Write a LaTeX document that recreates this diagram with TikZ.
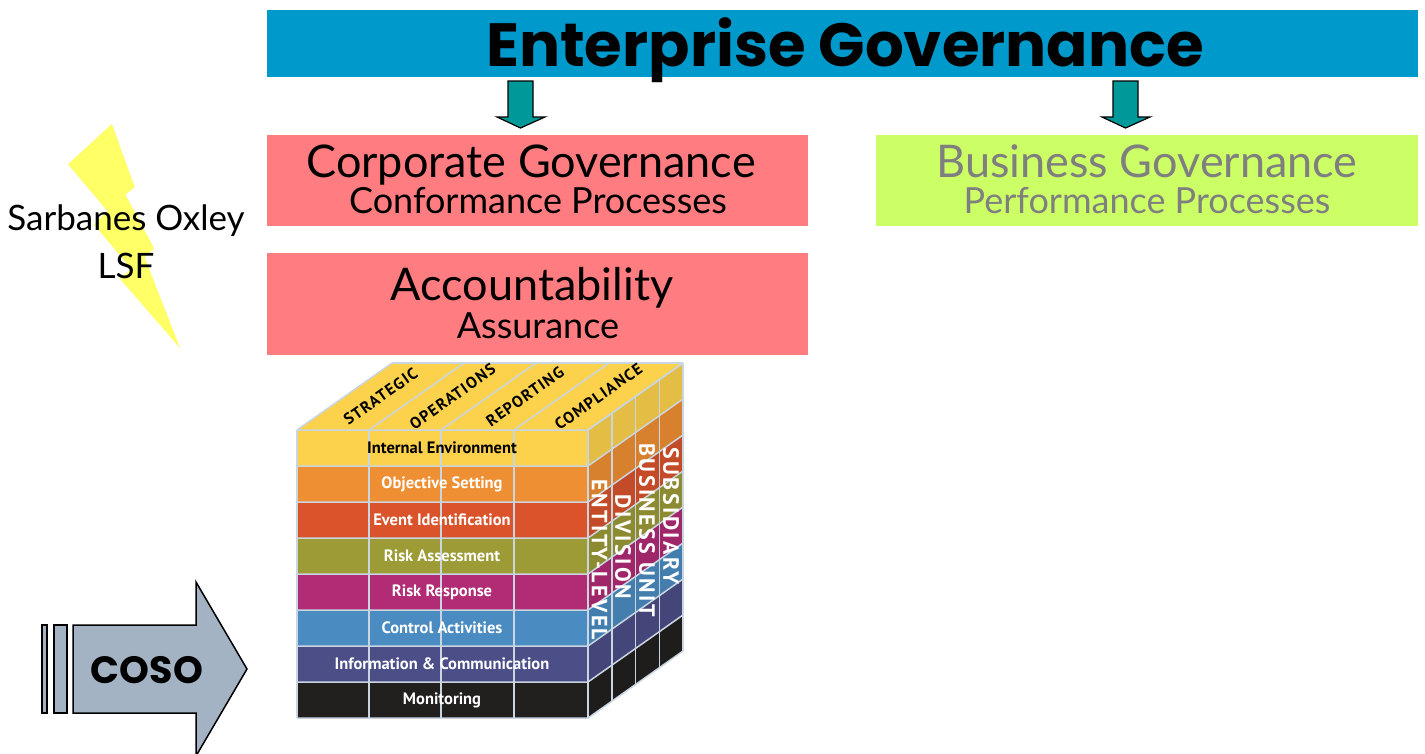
\documentclass[tikz,border=0pt]{standalone}
\usepackage{fontspec}
\setmainfont{Lato}
\newfontfamily\titlefont{Poppins}
\newfontfamily\cubefont{PT Sans}
\newfontfamily\sidefont[LetterSpace=11]{PT Sans}
\newfontfamily\topfont[LetterSpace=8]{PT Sans}
\usetikzlibrary{calc}
\definecolor{egblue}{HTML}{0099CC}
\definecolor{cgpink}{HTML}{FF7C80}
\definecolor{bglime}{HTML}{CCFF66}
\definecolor{arrteal}{HTML}{009999}
\definecolor{boltyel}{HTML}{FFFF66}
\definecolor{cosofill}{HTML}{A3B3C4}
\definecolor{gridc}{HTML}{C9D5E1}
\definecolor{bggray}{HTML}{7F7F7F}
\definecolor{rowA}{HTML}{FCD24C}
\definecolor{rowB}{HTML}{EF8F33}
\definecolor{rowC}{HTML}{DA532B}
\definecolor{rowD}{HTML}{9C9B36}
\definecolor{rowE}{HTML}{B12B75}
\definecolor{rowF}{HTML}{4A8CC1}
\definecolor{rowG}{HTML}{4C4E87}
\definecolor{rowH}{HTML}{221F1F}
\tikzset{
  blockarrow/.style={fill=arrteal, draw=black, line width=1.2pt, line join=miter},
  cososhape/.style={fill=cosofill, draw=black, line width=1.5pt, line join=miter},
  gridline/.style={draw=gridc, line width=1.5pt},
  rowlabel/.style={font=\cubefont\bfseries\fontsize{16.5}{16.5}\selectfont, text=white, inner sep=0pt},
  sidelabel/.style={font=\sidefont\bfseries\fontsize{22}{22}\selectfont, text=white, rotate=-90, inner sep=0pt},
  toplabel/.style={font=\topfont\bfseries\fontsize{16}{16}\selectfont, text=black, rotate=35.2, inner sep=0pt},
  boxtext/.style={anchor=base, inner sep=0pt}
}
\begin{document}
\begin{tikzpicture}[x=1pt,y=-1pt]
\useasboundingbox (0,0) rectangle (1425,753);
\clip (0,0) rectangle (1425,753);
% top bar
\fill[egblue] (267,10) rectangle (1418,77);
\node[boxtext, font=\titlefont\bfseries\fontsize{61}{61}\selectfont] (egt) at (845,66) {Enterprise Governance};
% arrows
\draw[blockarrow] (508,81) -- (533,81) -- (533,117) -- (545,117) -- (520.5,128) -- (497,117) -- (508,117) -- cycle;
\draw[blockarrow] (1113,81) -- (1138,81) -- (1138,117) -- (1150,117) -- (1125.5,128) -- (1102,117) -- (1113,117) -- cycle;
% boxes
\fill[cgpink] (267,135) rectangle (808,226);
\node[boxtext, font=\fontsize{45}{45}\selectfont] (cgt) at (531,177) {Corporate Governance};
\node[boxtext, font=\fontsize{36}{36}\selectfont] (cgs) at (538,213) {Conformance Processes};
\fill[bglime] (876,135) rectangle (1418,226);
\node[boxtext, text=bggray, font=\fontsize{45}{45}\selectfont] (bgt) at (1147,177) {Business Governance};
\node[boxtext, text=bggray, font=\fontsize{36}{36}\selectfont] (bgs) at (1147,213) {Performance Processes};
\fill[cgpink] (267,253) rectangle (808,355);
\node[boxtext, font=\fontsize{45}{45}\selectfont] (acct) at (532,300) {Accountability};
\node[boxtext, font=\fontsize{36}{36}\selectfont] (accs) at (538,338) {Assurance};
% lightning bolt
\fill[boltyel] (111.9,124) -- (134.7,187.1) -- (125.3,194.5) -- (154.0,248.5) -- (144.6,257.5) -- (180,348) -- (119.9,278.7) -- (131.4,269.0) -- (94.0,224.6) -- (107.4,210.9) -- (68,164.3) -- cycle;
\node[boxtext, font=\fontsize{35}{35}\selectfont] (sox) at (126,230) {Sarbanes Oxley};
\node[boxtext, font=\fontsize{35}{35}\selectfont] (lsf) at (126,278) {LSF};
% COSO arrow
\draw[cososhape] (42,625) rectangle (47,713);
\draw[cososhape] (54,625) rectangle (67,713);
\draw[cososhape] (73,625) -- (196,625) -- (196,582) -- (247,669) -- (196,756) -- (196,713) -- (73,713) -- cycle;
\node[boxtext, font=\titlefont\bfseries\fontsize{38}{38}\selectfont] (coso) at (147,683) {COSO};
% cube: top face
\fill[rowA] (297,430) -- (392,363) -- (683,363) -- (588,430) -- cycle;
% rows
\foreach \i/\c in {0/rowA,1/rowB,2/rowC,3/rowD,4/rowE,5/rowF,6/rowG,7/rowH}{
  \fill[\c] (297,{430+36*\i}) rectangle (588,{466+36*\i});
  \fill[\c!90!black] (588,{430+36*\i}) -- ++(95,-67) -- ++(0,36) -- (588,{466+36*\i}) -- cycle;
}
% grid
\foreach \x in {297,369,441,514,588}{
  \draw[gridline] (\x,430) -- (\x,718);
  \draw[gridline] (\x,430) -- ++(95,-67);
}
\foreach \i in {0,...,8}{
  \draw[gridline] (297,{430+36*\i}) -- (588,{430+36*\i}) -- ++(95,-67);
}
\foreach \k in {1,...,4}{
  \draw[gridline] ({588+23.75*\k},{430-16.75*\k}) -- ++(0,288);
}
\draw[gridline] (392,363) -- (683,363);
% front labels
\node[rowlabel, text=black] (r1) at (442,448) {Internal Environment};
\node[rowlabel] (r2) at (442,484) {Objective Setting};
\node[rowlabel] (r3) at (442,520) {Event Identification};
\node[rowlabel] (r4) at (442,556) {Risk Assessment};
\node[rowlabel] (r5) at (442,592) {Risk Response};
\node[rowlabel] (r6) at (442,628) {Control Activities};
\node[rowlabel] (r7) at (442,664) {Information \& Communication};
\node[rowlabel] (r8) at (442,700) {Monitoring};
% top labels
\node[toplabel] (t1) at (380.5,396.5) {STRATEGIC};
\node[toplabel] (t2) at (452.5,396.5) {OPERATIONS};
\node[toplabel] (t3) at (525,396.5) {REPORTING};
\node[toplabel] (t4) at (598.5,396.5) {COMPLIANCE};
% side labels
\node[sidelabel] (s1) at (599.5,560) {ENTITY-LEVEL};
\node[sidelabel] (s2) at (623,547) {DIVISION};
\node[sidelabel] (s3) at (647,530) {BUSINESS UNIT};
\node[sidelabel] (s4) at (671,516) {SUBSIDIARY};
\end{tikzpicture}
\end{document}
